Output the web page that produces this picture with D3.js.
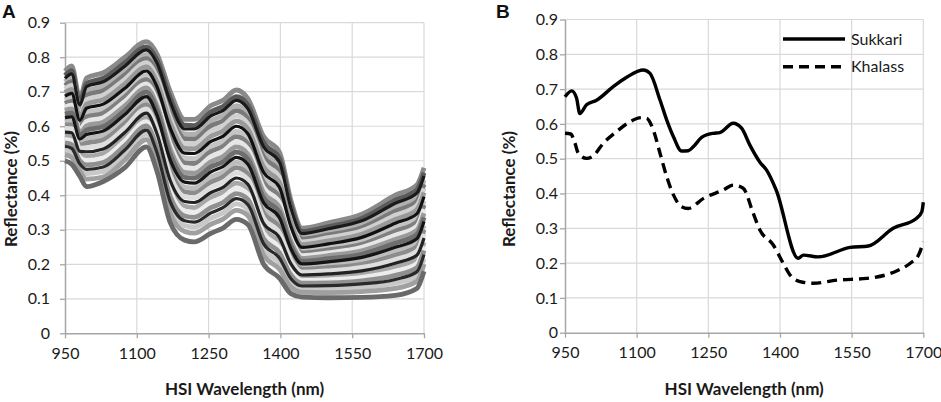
<!DOCTYPE html>
<html>
<head>
<meta charset="utf-8">
<script src="https://cdn.jsdelivr.net/npm/d3@7"></script>
<style>
  body { margin: 0; background: #fff; }
  svg { display: block; }
</style>
</head>
<body>
<svg width="941" height="402"></svg>
<script>
// ---- data ----
const xTicks = [950, 1100, 1250, 1400, 1550, 1700];
const yTicks = [0, 0.1, 0.2, 0.3, 0.4, 0.5, 0.6, 0.7, 0.8, 0.9];

// panel A: spectra of all samples, sampled at these wavelengths
const wavelengthsA = [950, 964, 981, 995, 1030, 1075, 1120, 1142, 1170, 1200, 1220, 1255, 1280, 1308, 1332, 1365, 1398, 1422, 1445, 1500, 1570, 1640, 1685, 1700];

const spectraA = [
  [.760, .775, .680, .740, .755, .800, .845, .810, .700, .620, .620, .660, .675, .705, .680, .570, .525, .385, .305, .320, .345, .400, .430, .480],
  [.747, .761, .669, .724, .739, .784, .830, .793, .681, .603, .602, .642, .657, .686, .662, .552, .507, .372, .295, .309, .333, .386, .415, .465],
  [.739, .752, .662, .715, .729, .774, .821, .783, .670, .592, .592, .630, .645, .675, .651, .540, .496, .363, .289, .303, .326, .377, .406, .456],
  [.729, .741, .653, .702, .716, .762, .808, .769, .654, .578, .577, .616, .631, .660, .636, .526, .481, .353, .281, .294, .316, .365, .394, .444],
  [.718, .729, .644, .690, .703, .749, .796, .756, .639, .564, .563, .601, .616, .645, .622, .511, .467, .342, .273, .285, .306, .354, .382, .432],
  [.708, .718, .635, .677, .690, .736, .784, .742, .624, .550, .549, .586, .601, .630, .607, .496, .452, .331, .265, .277, .297, .342, .370, .420],
  [.698, .707, .626, .664, .677, .723, .772, .728, .609, .536, .535, .571, .586, .615, .592, .481, .437, .320, .257, .268, .287, .330, .358, .408],
  [.687, .695, .617, .652, .664, .710, .760, .715, .594, .522, .521, .556, .571, .600, .578, .466, .423, .309, .249, .259, .278, .319, .346, .396],
  [.677, .684, .608, .639, .651, .698, .747, .701, .578, .508, .506, .542, .557, .585, .563, .452, .408, .299, .241, .251, .268, .307, .334, .384],
  [.666, .672, .599, .627, .638, .685, .735, .688, .563, .494, .492, .527, .542, .570, .549, .437, .394, .288, .233, .242, .258, .296, .322, .372],
  [.656, .661, .590, .614, .625, .672, .723, .674, .548, .480, .478, .512, .527, .555, .534, .422, .379, .277, .225, .233, .249, .284, .310, .360],
  [.646, .650, .581, .601, .612, .659, .711, .660, .533, .466, .464, .497, .512, .540, .519, .407, .364, .266, .217, .225, .239, .272, .298, .348],
  [.635, .638, .572, .589, .599, .646, .699, .647, .518, .452, .450, .482, .497, .525, .505, .392, .350, .255, .209, .216, .229, .261, .286, .336],
  [.625, .627, .563, .576, .586, .634, .686, .633, .502, .438, .435, .468, .483, .510, .490, .378, .335, .245, .201, .207, .220, .249, .274, .324],
  [.614, .615, .554, .564, .573, .621, .674, .620, .487, .424, .421, .453, .468, .495, .476, .363, .321, .234, .193, .198, .210, .238, .262, .312],
  [.604, .604, .545, .551, .560, .608, .662, .606, .472, .410, .407, .438, .453, .480, .461, .348, .306, .223, .185, .190, .200, .226, .250, .300],
  [.594, .593, .536, .538, .547, .595, .650, .592, .457, .396, .393, .423, .438, .465, .446, .333, .291, .212, .177, .181, .191, .214, .238, .288],
  [.583, .581, .527, .526, .534, .582, .638, .579, .442, .382, .379, .408, .423, .450, .432, .318, .277, .201, .169, .172, .181, .203, .226, .276],
  [.573, .570, .518, .513, .521, .570, .625, .565, .426, .368, .364, .394, .409, .435, .417, .304, .262, .191, .161, .164, .171, .191, .214, .264],
  [.562, .558, .509, .501, .508, .557, .613, .552, .411, .354, .350, .379, .394, .420, .403, .289, .248, .180, .153, .155, .162, .180, .202, .252],
  [.552, .547, .500, .488, .495, .544, .601, .538, .396, .340, .336, .364, .379, .405, .388, .274, .233, .169, .145, .146, .152, .168, .190, .240],
  [.542, .536, .491, .475, .482, .531, .589, .524, .381, .326, .322, .349, .364, .390, .373, .259, .218, .158, .137, .138, .143, .156, .178, .228],
  [.531, .524, .482, .463, .469, .518, .577, .511, .366, .312, .308, .334, .349, .375, .359, .244, .204, .147, .129, .129, .133, .145, .166, .216],
  [.518, .510, .471, .447, .453, .502, .561, .494, .347, .295, .290, .316, .331, .356, .341, .226, .186, .134, .119, .118, .121, .130, .151, .201],
  [.500, .490, .455, .425, .440, .480, .540, .470, .320, .270, .265, .290, .305, .330, .315, .200, .160, .115, .105, .103, .104, .110, .130, .180]
];

const shadesA = ["#8a8a8a", "#5a5a5a", "#1a1a1a", "#b0b0b0", "#7a7a7a", "#d0d0d0", "#999999", "#111111",
  "#c4c4c4", "#808080", "#e6e6e6", "#9a9a9a", "#6e6e6e", "#151515", "#bdbdbd", "#8c8c8c",
  "#dedede", "#222222", "#a8a8a8", "#ececec", "#909090", "#2a2a2a", "#c8c8c8", "#a0a0a0", "#6a6a6a"];

// panel B: mean spectra of the two cultivars
const sukkariWl = [950, 964, 974, 981, 995, 1016, 1051, 1079, 1114, 1128, 1149, 1163, 1177, 1194, 1208, 1219, 1236, 1260, 1274, 1302, 1320, 1337, 1358, 1372, 1392, 1438, 1449, 1480, 1547, 1585, 1637, 1686, 1697, 1700];
const sukkariVal = [.678, .695, .675, .630, .655, .668, .707, .734, .755, .745, .668, .611, .563, .522, .523, .535, .561, .573, .575, .602, .587, .539, .490, .467, .410, .214, .223, .218, .245, .249, .300, .329, .348, .375];

const khalassWl = [950, 962, 971, 978, 995, 1009, 1030, 1058, 1086, 1110, 1121, 1135, 1149, 1163, 1177, 1194, 1208, 1240, 1281, 1302, 1323, 1344, 1358, 1386, 1407, 1421, 1442, 1470, 1519, 1582, 1645, 1672, 1690, 1700];
const khalassVal = [.573, .571, .544, .515, .501, .508, .544, .578, .606, .618, .616, .582, .515, .448, .396, .362, .357, .386, .410, .424, .415, .343, .295, .252, .199, .166, .147, .142, .151, .156, .178, .199, .223, .261];

const legendItems = ["Sukkari", "Khalass"];

// ---- drawing ----
const svg = d3.select("svg");
const font = "Lato, 'Open Sans', sans-serif";

const drawFrame = (p) => {
  const x = d3.scaleLinear().domain([950, 1700]).range([p.left, p.right]);
  const y = d3.scaleLinear().domain([0, 0.9]).range([p.bottom, p.top]);
  const g = svg.append("g");

  // gridlines
  g.selectAll(".hgrid").data(yTicks.slice(1)).join("line")
    .attr("x1", p.left).attr("x2", p.right)
    .attr("y1", d => y(d)).attr("y2", d => y(d))
    .attr("stroke", "#d9d9d9").attr("stroke-width", 1.2);
  g.selectAll(".vgrid").data(xTicks.slice(1)).join("line")
    .attr("x1", d => x(d)).attr("x2", d => x(d))
    .attr("y1", p.top).attr("y2", p.bottom)
    .attr("stroke", "#d9d9d9").attr("stroke-width", 1.2);

  const xAxis = g.append("g")
    .attr("transform", `translate(0,${p.bottom})`)
    .call(d3.axisBottom(x).tickValues(xTicks).tickSize(5).tickSizeOuter(0).tickPadding(9).tickFormat(d3.format("d")));
  const yAxis = g.append("g")
    .attr("transform", `translate(${p.left},0)`)
    .call(d3.axisLeft(y).tickValues(yTicks).tickSize(5).tickSizeOuter(0).tickPadding(p.yPad)
      .tickFormat(d => d === 0 ? "0" : d3.format(".1f")(d)));

  [xAxis, yAxis].forEach(a => {
    a.select(".domain").attr("stroke", "#a6a6a6").attr("stroke-width", 1.5);
    a.selectAll(".tick line").attr("stroke", "#a6a6a6").attr("stroke-width", 1.3);
    a.selectAll("text").attr("font-family", font).attr("font-size", 16).attr("fill", "#1a1a1a");
  });

  g.append("text")
    .attr("x", (p.left + p.right) / 2).attr("y", 395)
    .attr("text-anchor", "middle")
    .attr("font-family", font).attr("font-weight", "bold").attr("font-size", 17).attr("fill", "#1a1a1a")
    .text("HSI Wavelength (nm)");
  g.append("text")
    .attr("transform", `translate(${p.titleX},189) rotate(-90)`)
    .attr("text-anchor", "middle")
    .attr("font-family", font).attr("font-weight", "bold").attr("font-size", 17).attr("fill", "#1a1a1a")
    .text("Reflectance (%)");
  g.append("text")
    .attr("x", p.letterX).attr("y", 18)
    .attr("font-family", "'Liberation Sans', Arial, sans-serif").attr("font-weight", "bold").attr("font-size", 19)
    .attr("fill", "#111")
    .text(p.letter);

  return { g, x, y };
};

// panel A
const A = drawFrame({ left: 65, right: 424, top: 22.7, bottom: 333.3, yPad: 10, titleX: 17, letterX: 2, letter: "A" });
const lineA = d3.line()
  .x((d, i) => A.x(wavelengthsA[i]))
  .y(d => A.y(d))
  .curve(d3.curveMonotoneX);
const spectraIdx = d3.range(spectraA.length);
const isDark = i => d3.hsl(shadesA[i]).l < 0.2;
// light/grey spectra first, the near-black ones drawn on top and a bit thinner
const orderA = spectraIdx.filter(i => !isDark(i)).concat(spectraIdx.filter(isDark));
A.g.append("g").selectAll("path").data(orderA).join("path")
  .attr("d", i => lineA(spectraA[i]))
  .attr("fill", "none")
  .attr("stroke", i => shadesA[i])
  .attr("stroke-width", i => isDark(i) ? 3.2 : 4.8)
  .attr("stroke-linejoin", "round");

// panel B
const B = drawFrame({ left: 565, right: 923.3, top: 19.5, bottom: 332.7, yPad: 2, titleX: 515, letterX: 496, letter: "B" });
const seriesB = [
  { name: "Sukkari", wl: sukkariWl, val: sukkariVal, dash: null },
  { name: "Khalass", wl: khalassWl, val: khalassVal, dash: "10,6" }
];
const lineB = (s) => d3.line()
  .x((d, i) => B.x(s.wl[i]))
  .y(d => B.y(d))
  .curve(d3.curveMonotoneX)(s.val);
B.g.selectAll(".series").data(seriesB).join("path")
  .attr("d", lineB)
  .attr("fill", "none")
  .attr("stroke", "#000")
  .attr("stroke-width", 3.4)
  .attr("stroke-dasharray", d => d.dash);

// legend
const legend = B.g.append("g").attr("transform", "translate(783,39)");
legendItems.forEach((name, i) => {
  const row = legend.append("g").attr("transform", `translate(0,${i * 27.7})`);
  row.append("line")
    .attr("x1", 0).attr("x2", 62)
    .attr("stroke", "#000").attr("stroke-width", 3.4)
    .attr("stroke-dasharray", seriesB[i].dash);
  row.append("text")
    .attr("x", 68).attr("dy", "0.35em")
    .attr("font-family", font).attr("font-size", 16).attr("fill", "#1a1a1a")
    .text(name);
});
</script>
</body>
</html>
